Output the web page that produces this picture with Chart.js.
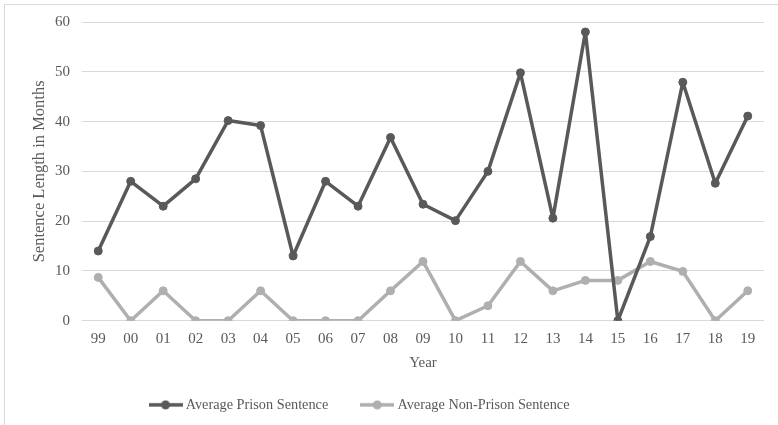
<!DOCTYPE html>
<html>
<head>
<meta charset="utf-8">
<script src="https://cdn.jsdelivr.net/npm/chart.js@4.4.1/dist/chart.umd.min.js"></script>
<style>
    html, body { margin: 0; padding: 0; background: #fff; }
    #wrap { position: relative; width: 778px; height: 425px; overflow: hidden; }
    #frame { position: absolute; left: 4px; top: 4px; right: -2px; bottom: -2px; border-left: 1px solid #d9d9d9; border-top: 1px solid #d9d9d9; }
    canvas { position: absolute; left: 0; top: 0; }
</style>
</head>
<body>
<div id="wrap">
    <div id="frame"></div>
    <canvas id="sentenceChart" width="778" height="425"></canvas>
</div>
<script>
// Datos
const years = ['99', '00', '01', '02', '03', '04', '05', '06', '07', '08', '09',
               '10', '11', '12', '13', '14', '15', '16', '17', '18', '19'];
const prisonSentence = [14, 28, 23, 28.5, 40.2, 39.2, 13, 28, 23, 36.8, 23.4,
                        20.1, 30, 49.8, 20.6, 58, 0, 16.9, 47.9, 27.6, 41.1];
const nonPrisonSentence = [8.7, 0, 6, 0, 0, 6, 0, 0, 0, 6, 11.9,
                           0, 3, 11.9, 6, 8.1, 8.1, 11.9, 9.9, 0, 6];
const yMin = 0;
const yMax = 60;
const yStep = 10;

const darkGray = '#595959';
const lightGray = '#afafaf';
const serif = "'Liberation Serif', 'DejaVu Serif', serif";

// Marcador de leyenda: línea con punto en medio
function legendMarker(color) {
    const c = document.createElement('canvas');
    c.width = 34;
    c.height = 10;
    const g = c.getContext('2d');
    g.strokeStyle = color;
    g.lineWidth = 3.5;
    g.beginPath();
    g.moveTo(0, 5);
    g.lineTo(34, 5);
    g.stroke();
    g.fillStyle = color;
    g.beginPath();
    g.arc(17, 5, 4.5, 0, Math.PI * 2);
    g.fill();
    return c;
}
const markers = [legendMarker(darkGray), legendMarker(lightGray)];

// Mover la leyenda como en el original (un poco a la izquierda y arriba)
const legendShift = {
    id: 'legendShift',
    afterLayout(chart) {
        const l = chart.legend;
        if (!l) return;
        l.left -= 21; l.right -= 21;
        l.top -= 3; l.bottom -= 3;
    }
};

new Chart(document.getElementById('sentenceChart'), {
    type: 'line',
    data: {
        labels: years,
        datasets: [{
            label: 'Average Prison Sentence',
            data: prisonSentence,
            borderColor: darkGray,
            backgroundColor: darkGray,
            borderWidth: 3.5,
            borderJoinStyle: 'round',
            borderCapStyle: 'round',
            pointRadius: 4,
            pointBorderWidth: 1,
            tension: 0
        }, {
            label: 'Average Non-Prison Sentence',
            data: nonPrisonSentence,
            borderColor: lightGray,
            backgroundColor: lightGray,
            borderWidth: 3.5,
            borderJoinStyle: 'round',
            borderCapStyle: 'round',
            pointRadius: 4,
            pointBorderWidth: 1,
            tension: 0
        }]
    },
    plugins: [legendShift],
    options: {
        responsive: false,
        animation: false,
        layout: { padding: { left: 0, right: 14, top: 22, bottom: 0 } },
        plugins: {
            tooltip: { enabled: false },
            legend: {
                position: 'bottom',
                labels: {
                    usePointStyle: true,
                    pointStyleWidth: 26,
                    padding: 36,
                    color: darkGray,
                    font: { family: serif, size: 14.3 },
                    generateLabels(chart) {
                        const items = Chart.defaults.plugins.legend.labels.generateLabels(chart);
                        items.forEach((item, i) => { item.pointStyle = markers[i]; });
                        return items;
                    }
                }
            }
        },
        scales: {
            x: {
                offset: true,
                grid: { display: false, drawTicks: false },
                border: { display: false },
                ticks: { color: darkGray, padding: 9, font: { family: serif, size: 15 }, maxRotation: 0, autoSkip: false },
                title: { display: true, text: 'Year', color: darkGray, font: { family: serif, size: 15 }, padding: { top: 0, bottom: -7 } },
                afterFit(scale) { scale.height = 44; }
            },
            y: {
                min: yMin,
                max: yMax,
                ticks: { stepSize: yStep, color: darkGray, padding: 12, font: { family: serif, size: 15 } },
                grid: { color: '#d9d9d9', lineWidth: 1, drawTicks: false },
                border: { display: false },
                title: { display: true, text: 'Sentence Length in Months', color: darkGray, font: { family: serif, size: 16.5 }, padding: { top: 30, bottom: 0 } },
                afterFit(scale) { scale.width = 82; }
            }
        }
    }
});
</script>
</body>
</html>
